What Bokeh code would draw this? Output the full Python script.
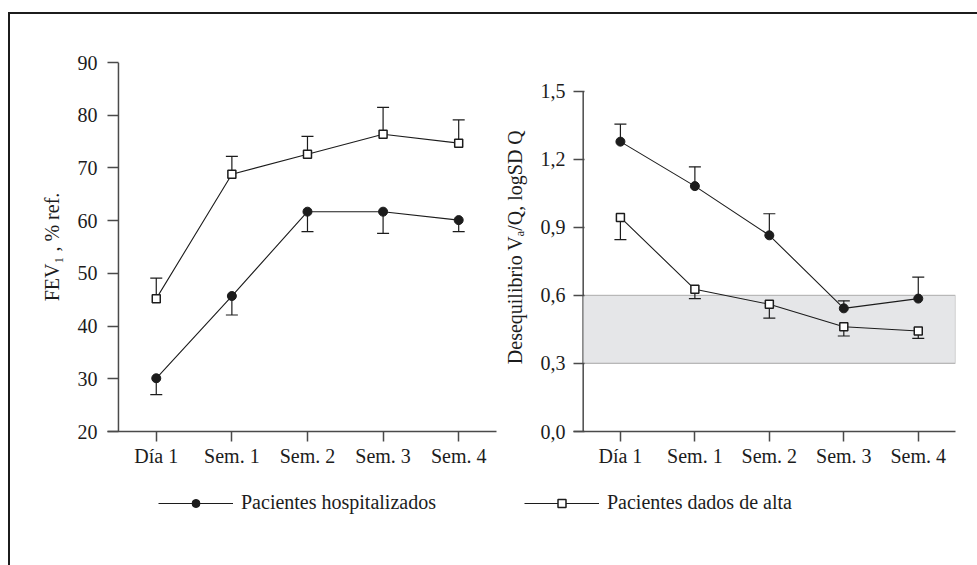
from bokeh.plotting import figure
from bokeh.models import (ColumnDataSource, Whisker, TeeHead, BoxAnnotation,
                          FixedTicker, Legend, LegendItem, Range1d)
from bokeh.layouts import column, row
from bokeh.embed import file_html
from bokeh.resources import INLINE

# ---------------- data ----------------
categories = ["Día 1", "Sem. 1", "Sem. 2", "Sem. 3", "Sem. 4"]

fev_hosp = [30.1, 45.7, 61.7, 61.7, 60.1]
fev_hosp_low = [27.0, 42.1, 57.9, 57.6, 57.9]
fev_alta = [45.2, 68.8, 72.6, 76.4, 74.7]
fev_alta_up = [49.1, 72.2, 76.0, 81.5, 79.1]

va_hosp = [1.278, 1.082, 0.865, 0.543, 0.586]
va_hosp_up = [1.355, 1.167, 0.960, 0.576, 0.681]
va_alta = [0.944, 0.627, 0.561, 0.462, 0.443]
va_alta_low = [0.846, 0.586, 0.500, 0.421, 0.411]

fev_ticks = [20, 30, 40, 50, 60, 70, 80, 90]
va_ticks = [0.0, 0.3, 0.6, 0.9, 1.2, 1.5]
va_tick_labels = ["0,0", "0,3", "0,6", "0,9", "1,2", "1,5"]
normal_low, normal_high = 0.3, 0.6

series_names = ["Pacientes hospitalizados", "Pacientes dados de alta"]

# ---------------- style ----------------
FONT = "Liberation Serif"
FS = "20px"
INK = "#1c1c1c"
AXIS = "#4a4a4a"

xs = list(range(len(categories)))


def style_axes(p, yticks, ylabels, ytitle, ylab_standoff):
    p.xgrid.visible = False
    p.ygrid.visible = False
    p.outline_line_color = None
    xa = p.xaxis[0]
    xa.ticker = FixedTicker(ticks=xs)
    xa.major_label_overrides = {i: c for i, c in enumerate(categories)}
    xa.minor_tick_line_color = None
    xa.major_tick_out = 10
    xa.major_tick_in = 0
    xa.axis_line_color = AXIS
    xa.axis_line_width = 1.5
    xa.major_tick_line_color = AXIS
    xa.major_tick_line_width = 1.5
    xa.major_label_standoff = 3
    xa.major_label_text_font = FONT
    xa.major_label_text_font_size = FS
    xa.major_label_text_color = INK

    ya = p.yaxis[0]
    ya.ticker = FixedTicker(ticks=yticks)
    ya.major_label_overrides = {t: l for t, l in zip(yticks, ylabels)}
    ya.minor_tick_line_color = None
    ya.axis_line_color = None
    ya.major_tick_in = 11
    ya.major_tick_out = 0
    ya.major_tick_line_color = AXIS
    ya.major_tick_line_width = 1.5
    ya.major_label_standoff = ylab_standoff
    ya.major_label_text_font = FONT
    ya.major_label_text_font_size = FS
    ya.major_label_text_color = INK
    ya.axis_label = ytitle
    ya.axis_label_text_font = FONT
    ya.axis_label_text_font_size = FS
    ya.axis_label_text_font_style = "normal"
    ya.axis_label_text_color = INK
    ya.axis_label_standoff = 12
    # y-axis line itself, at x = -0.5, from the first to the last tick
    p.segment(x0=[-0.5], y0=[yticks[0]], x1=[-0.5], y1=[yticks[-1]],
              line_color=AXIS, line_width=1.5, level="underlay")


def add_series(p, vals, ends, filled):
    src = ColumnDataSource(dict(x=xs, v=vals, e=ends))
    up = ends[0] > vals[0]
    head = TeeHead(size=12, line_color=INK, line_width=1.2)
    if up:
        w = Whisker(source=src, base="x", lower="v", upper="e", dimension="height",
                    line_color=INK, line_width=1.2, upper_head=head, lower_head=None)
    else:
        w = Whisker(source=src, base="x", lower="e", upper="v", dimension="height",
                    line_color=INK, line_width=1.2, lower_head=head, upper_head=None)
    p.add_layout(w)
    p.line("x", "v", source=src, line_color=INK, line_width=1.1)
    if filled:
        p.scatter("x", "v", source=src, marker="circle", size=9,
                  fill_color=INK, line_color=INK)
    else:
        p.scatter("x", "v", source=src, marker="square", size=8,
                  fill_color="white", line_color=INK, line_width=1.5)


# both frames share top (aligned by the row) and bottom; the right panel's
# range is extended above 1,5 so that 1,5 sits lower, as in the original
p1 = figure(width=490, height=455, output_backend="svg", toolbar_location=None,
            x_range=Range1d(-0.645, 4.5), y_range=Range1d(20, 90),
            min_border_left=97, min_border_right=4, min_border_top=48,
            min_border_bottom=36, background_fill_color=None,
            border_fill_color=None)
style_axes(p1, fev_ticks, [str(t) for t in fev_ticks], "FEV\u2081 , % ref.", 10)
add_series(p1, fev_alta, fev_alta_up, filled=False)
add_series(p1, fev_hosp, fev_hosp_low, filled=True)

p2 = figure(width=477, height=455, output_backend="svg", toolbar_location=None,
            x_range=Range1d(-0.63, 4.5), y_range=Range1d(0, 1.627),
            min_border_left=67, min_border_right=22, min_border_top=48,
            min_border_bottom=36, background_fill_color=None,
            border_fill_color=None)
style_axes(p2, va_ticks, va_tick_labels, "Desequilibrio V\u2090/Q, logSD Q", 8)
p2.add_layout(BoxAnnotation(left=-0.5, right=4.5, bottom=normal_low, top=normal_high,
                            fill_color="#e5e6e8", fill_alpha=1.0, line_color="#333333",
                            line_width=1.2, level="underlay"))
add_series(p2, va_hosp, va_hosp_up, filled=True)
add_series(p2, va_alta, va_alta_low, filled=False)

# ---------------- legend panel ----------------
p3 = figure(width=967, height=96, output_backend="svg", toolbar_location=None,
            x_range=Range1d(0, 1), y_range=Range1d(0, 1), min_border=0,
            background_fill_color=None, border_fill_color=None)
p3.axis.visible = False
p3.grid.visible = False
p3.outline_line_color = None
# hidden sample renderers (outside the visible range) used only for legend glyphs
l1 = p3.line([-5, -4], [-5, -5], line_color=INK, line_width=1.1)
m1 = p3.scatter([-5], [-5], marker="circle", size=9, fill_color=INK, line_color=INK)
l2 = p3.line([-5, -4], [-5, -5], line_color=INK, line_width=1.1)
m2 = p3.scatter([-5], [-5], marker="square", size=8, fill_color="white",
                line_color=INK, line_width=1.5)
legend = Legend(items=[LegendItem(label=series_names[0], renderers=[l1, m1]),
                       LegendItem(label=series_names[1], renderers=[l2, m2])],
                orientation="horizontal", location=(148, 51),
                glyph_width=75, glyph_height=20, label_height=20,
                label_standoff=8, spacing=88, padding=0, margin=0,
                border_line_color=None, background_fill_color=None,
                label_text_font=FONT, label_text_font_size=FS,
                label_text_color=INK)
p3.add_layout(legend)

layout = column(row(p1, p2), p3, margin=(12, 0, 0, 8),
                styles={"border-left": "2px solid #1c1c1c",
                        "border-top": "2px solid #1c1c1c"})

open("out.html", "w").write(file_html(layout, INLINE))
